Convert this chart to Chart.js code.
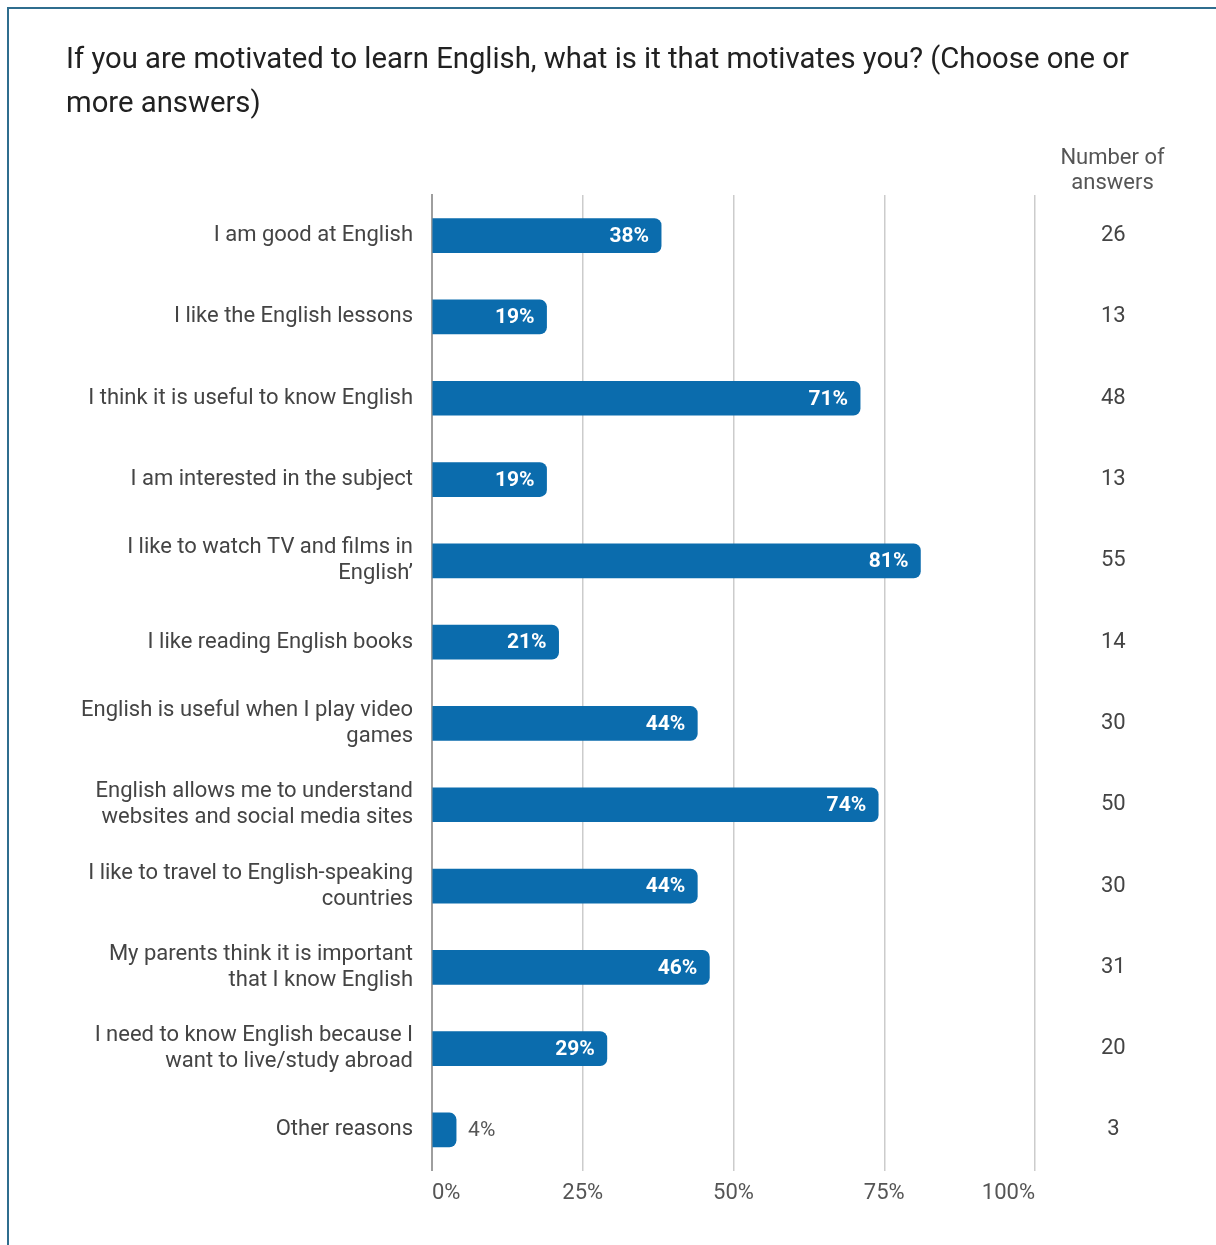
<!DOCTYPE html>
<html>
<head>
<meta charset="utf-8">
<script src="https://cdn.jsdelivr.net/npm/chart.js@4/dist/chart.umd.min.js"></script>
<style>
  body { margin: 0; background: #fff; }
  .frame {
    position: absolute; left: 7px; top: 7px; width: 1400px; height: 1400px;
    border-left: 2px solid #2f6d8e; border-top: 2px solid #2f6d8e;
  }
  #myChart { position: absolute; left: 0; top: 0; }
</style>
</head>
<body>
<div class="frame"></div>
<canvas id="myChart" width="1216" height="1245"></canvas>
<script>
const titleLines = [
  'If you are motivated to learn English, what is it that motivates you? (Choose one or',
  'more answers)'
];
const categories = [
  'I am good at English',
  'I like the English lessons',
  'I think it is useful to know English',
  'I am interested in the subject',
  ['I like to watch TV and films in', 'English\u2019'],
  'I like reading English books',
  ['English is useful when I play video', 'games'],
  ['English allows me to understand', 'websites and social media sites'],
  ['I like to travel to English-speaking', 'countries'],
  ['My parents think it is important', 'that I know English'],
  ['I need to know English because I', 'want to live/study abroad'],
  'Other reasons'
];
const percents = [38, 19, 71, 19, 81, 21, 44, 74, 44, 46, 29, 4];
const answers = [26, 13, 48, 13, 55, 14, 30, 50, 30, 31, 20, 3];
const xTicks = [0, 25, 50, 75, 100];

const FONT = 'Roboto';
Chart.defaults.font.family = FONT;

// percentage labels at the end of each bar
const barLabels = {
  id: 'barLabels',
  afterDatasetsDraw(chart) {
    const ctx = chart.ctx;
    const meta = chart.getDatasetMeta(0);
    ctx.save();
    ctx.textBaseline = 'middle';
    meta.data.forEach((bar, i) => {
      const txt = percents[i] + '%';
      if (percents[i] >= 10) {
        ctx.font = 'bold 21px ' + FONT;
        ctx.fillStyle = '#ffffff';
        ctx.textAlign = 'right';
        ctx.fillText(txt, bar.x - 12, bar.y + 1);
      } else {
        ctx.font = '21px ' + FONT;
        ctx.fillStyle = '#555555';
        ctx.textAlign = 'left';
        ctx.fillText(txt, bar.x + 12, bar.y + 1);
      }
    });
    ctx.restore();
  }
};

// heading above the answer counts column
const countHeader = {
  id: 'countHeader',
  afterDraw(chart) {
    const ctx = chart.ctx;
    const s = chart.scales.y2;
    const cx = (s.left + s.right) / 2;
    ctx.save();
    ctx.font = '22px ' + FONT;
    ctx.fillStyle = '#555555';
    ctx.textAlign = 'center';
    ctx.textBaseline = 'middle';
    ctx.fillText('Number of', cx, chart.chartArea.top - 37);
    ctx.fillText('answers', cx, chart.chartArea.top - 12);
    ctx.restore();
  }
};

// fixed width for a vertical axis, without extra end padding
const fixWidth = (w) => (axis) => {
  axis.width = w;
  axis.paddingTop = 0;
  axis.paddingBottom = 0;
};

const chart = new Chart(document.getElementById('myChart'), {
  type: 'bar',
  data: {
    labels: categories,
    datasets: [{
      data: percents,
      yAxisID: 'y',
      backgroundColor: '#0b6cad',
      barThickness: 34,
      borderSkipped: 'start',
      borderRadius: { topLeft: 0, bottomLeft: 0, topRight: 7, bottomRight: 7 }
    }]
  },
  options: {
    responsive: false,
    animation: false,
    indexAxis: 'y',
    layout: { padding: { top: 39, left: 66, right: 26, bottom: 28 } },
    scales: {
      x: {
        type: 'linear',
        min: 0,
        max: 100,
        afterBuildTicks: (axis) => { axis.ticks = xTicks.map(v => ({ value: v })); },
        ticks: {
          align: 'inner',
          padding: 10,
          color: '#555555',
          font: { size: 22 },
          callback: (v) => v + '%'
        },
        grid: { color: '#cccccc', lineWidth: 1.5, drawTicks: false },
        border: { display: false }
      },
      y: {
        type: 'category',
        offset: true,
        grid: { display: false, drawTicks: false },
        border: { color: '#9e9e9e', width: 2 },
        ticks: {
          padding: 19,
          color: '#444444',
          font: { size: 22, lineHeight: 1.18 }
        },
        afterFit: fixWidth(366)
      },
      y2: {
        type: 'category',
        position: 'right',
        offset: true,
        labels: answers.map(String),
        grid: { display: false, drawTicks: false },
        border: { display: false },
        ticks: {
          crossAlign: 'center',
          padding: 66,
          color: '#444444',
          font: { size: 22 }
        },
        afterFit: fixWidth(155)
      }
    },
    plugins: {
      legend: { display: false },
      tooltip: { enabled: false },
      title: {
        display: true,
        text: titleLines,
        align: 'start',
        color: '#212121',
        font: { size: 29.25, weight: 'normal', lineHeight: 44 / 29.25 },
        padding: { top: 0, bottom: 68 }
      }
    }
  },
  plugins: [barLabels, countHeader]
});
</script>
</body>
</html>
